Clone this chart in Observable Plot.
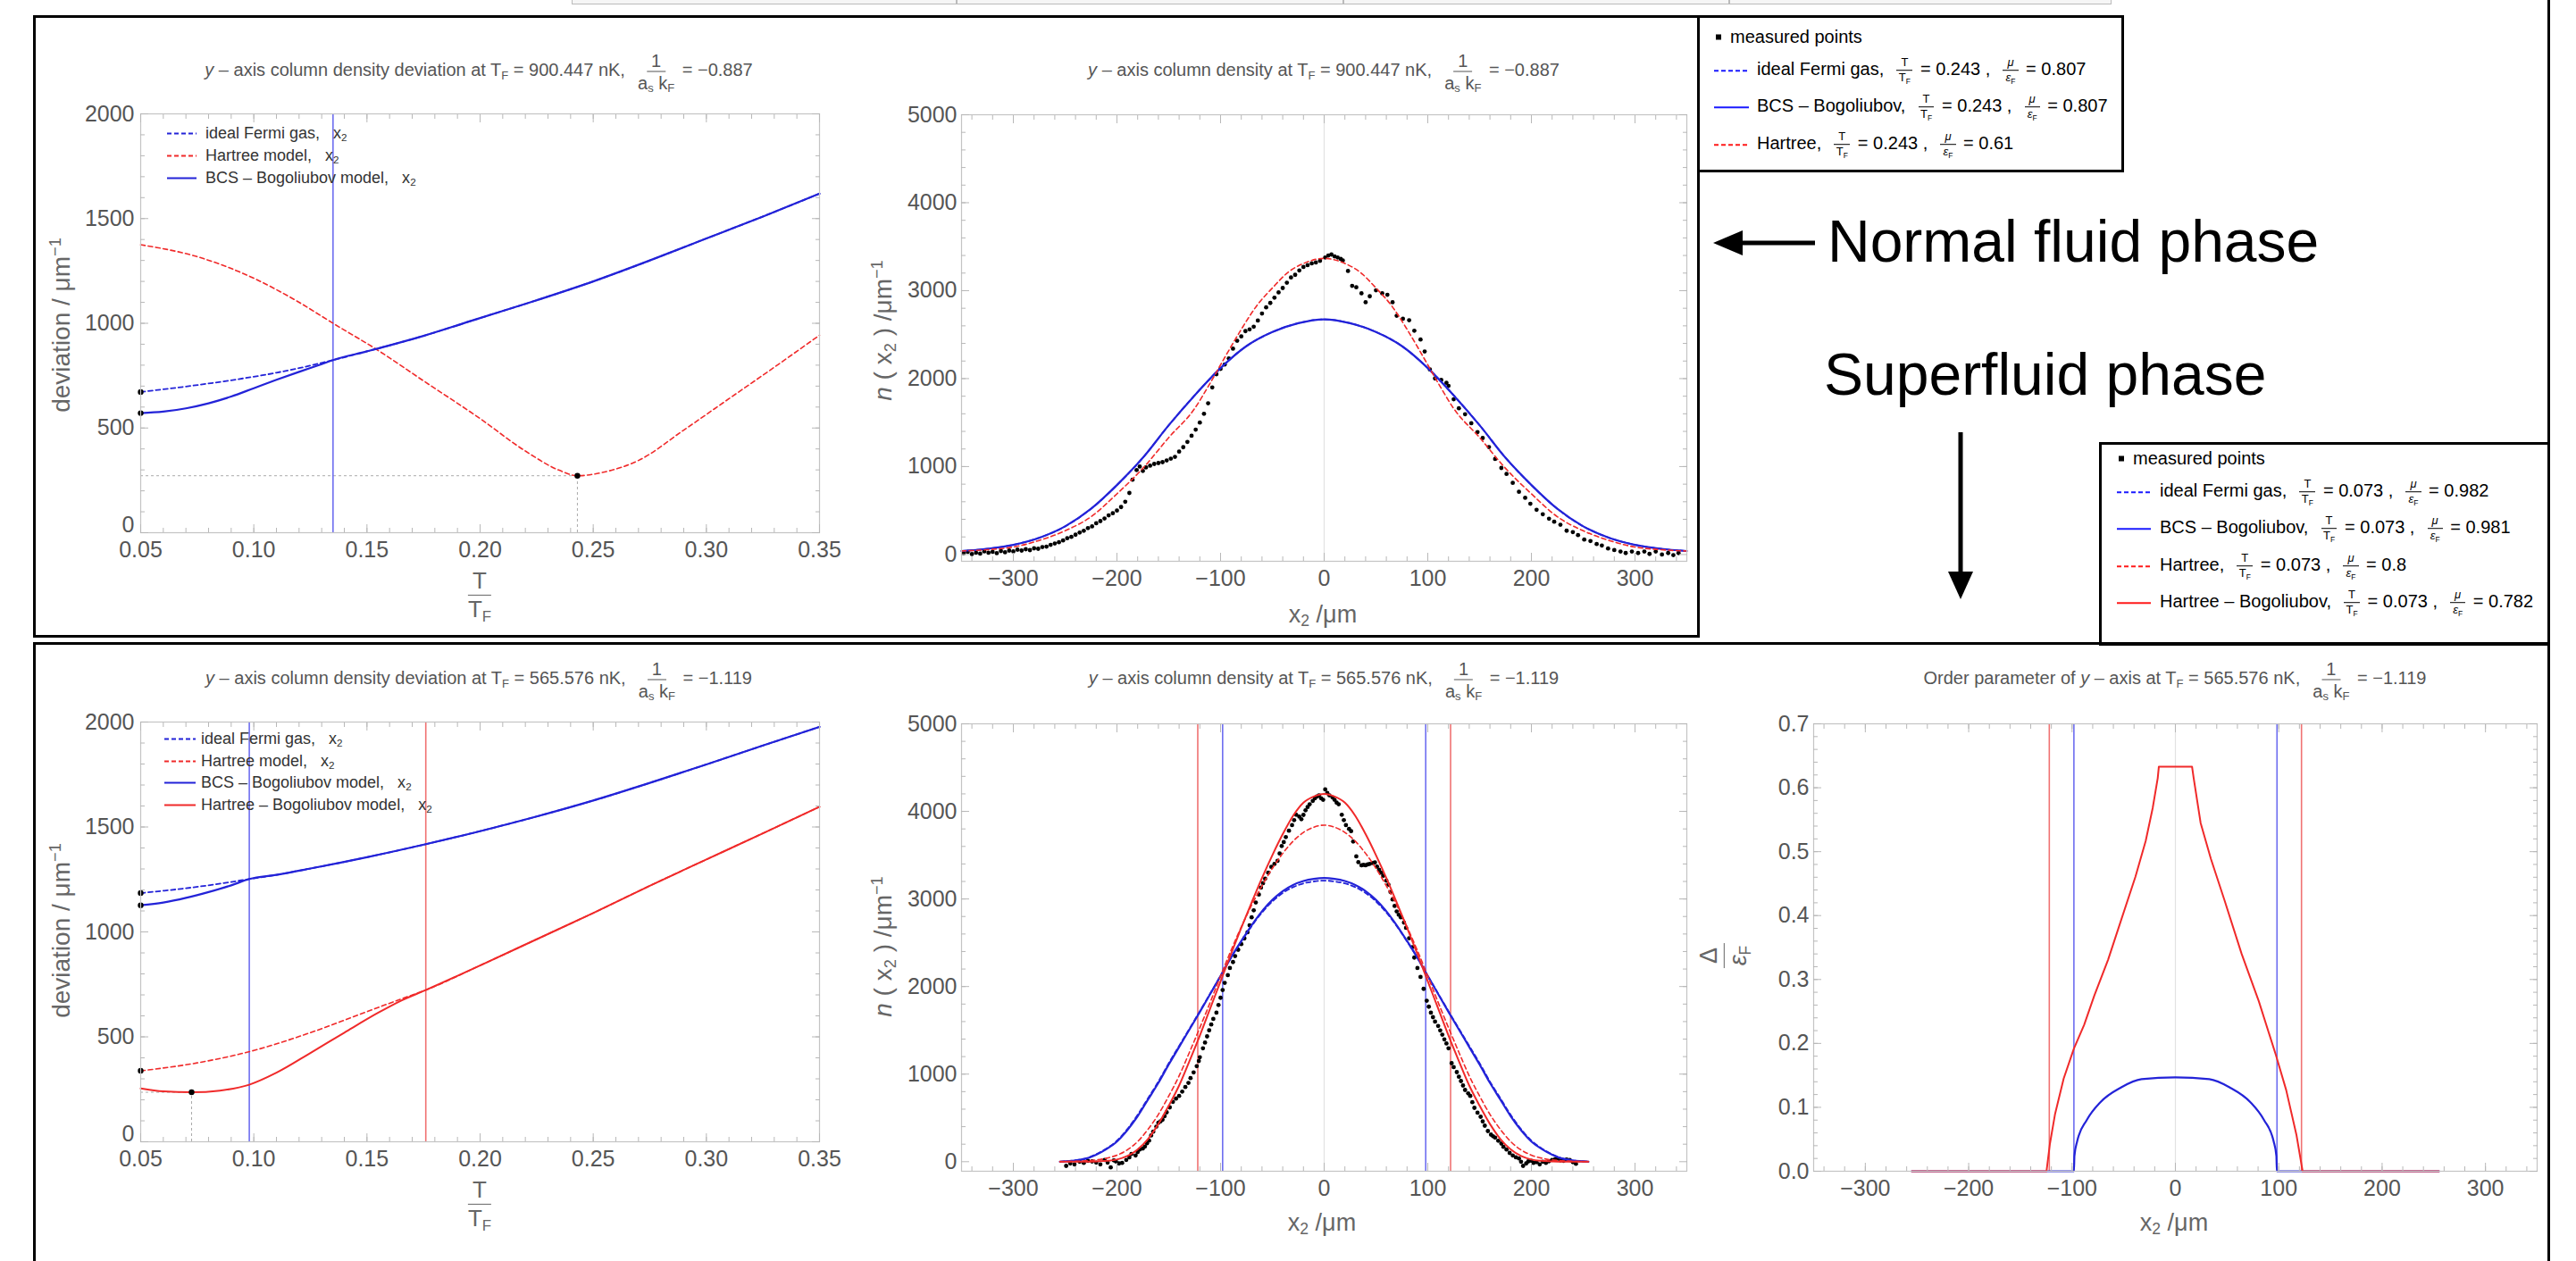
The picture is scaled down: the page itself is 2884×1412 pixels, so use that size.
<!DOCTYPE html>
<html><head><meta charset="utf-8">
<script src="https://cdn.jsdelivr.net/npm/d3@7"></script>
<script src="https://cdn.jsdelivr.net/npm/@observablehq/plot@0.6"></script>
<style>
html,body{margin:0;padding:0;background:#fff;}
#page{position:relative;width:2884px;height:1412px;overflow:hidden;background:#fff;font-family:'Liberation Sans',Arial,sans-serif;}
.box{position:absolute;border:3px solid #000;box-sizing:border-box;}
.t{position:absolute;white-space:nowrap;}
.pf{font-family:'Liberation Sans Narrow','Arial Narrow','Liberation Sans',Arial,sans-serif;}
.frac{display:inline-flex;flex-direction:column;align-items:center;vertical-align:middle;line-height:1.1;margin:0 3px;}
.frac>span:first-child{border-bottom:1.4px solid currentColor;padding:0 5px 1px 5px;}
.frac>span:last-child{padding-top:1px;}
sub{font-size:0.65em;vertical-align:-0.28em;line-height:0;}
sup{font-size:0.65em;vertical-align:0.55em;line-height:0;}
.sm{font-size:13px;}
.row{position:absolute;display:flex;align-items:center;white-space:nowrap;transform:translateY(-50%);}
</style>
</head><body><div id="page"></div>
<script>
// ---------------- DATA ----------------
// Top-left: deviation vs T/T_F  (T_F = 900.447 nK)
const tlT_hartree = [0.05,0.075,0.10,0.12,0.135,0.155,0.175,0.20,0.22,0.235,0.243,0.255,0.27,0.29,0.31,0.33,0.35];
const tlHartree   = [1375,1318,1215,1100,1000,870,725,545,390,298,272,290,345,490,640,790,943];
const tlT_ideal   = [0.05,0.07,0.09,0.11,0.12,0.13,0.135,0.15,0.175,0.20,0.225,0.25,0.275,0.30,0.325,0.35];
const tlIdeal     = [672,698,728,764,786,811,824,866,940,1025,1110,1200,1300,1405,1510,1619];
const tlT_bcs     = [0.05,0.06,0.07,0.08,0.09,0.10,0.11,0.12,0.13,0.135,0.15,0.175,0.20,0.225,0.25,0.275,0.30,0.325,0.35];
const tlBcs       = [571,578,594,618,650,690,730,768,805,824,866,940,1025,1110,1200,1300,1405,1510,1619];
const tlTcBlue    = [0.135];
const tlMarkT     = [0.05,0.05,0.243];
const tlMarkV     = [672,571,272];

// Bottom-left: deviation vs T/T_F  (T_F = 565.576 nK)
const blT_ideal   = [0.05,0.06,0.07,0.08,0.09,0.098,0.11,0.125,0.15,0.176,0.20,0.225,0.25,0.275,0.30,0.325,0.35];
const blIdeal     = [1185,1196,1208,1222,1238,1252,1272,1302,1356,1418,1480,1550,1626,1710,1798,1888,1977];
const blT_bcs     = [0.05,0.06,0.07,0.08,0.09,0.098,0.11,0.125,0.15,0.176,0.20,0.225,0.25,0.275,0.30,0.325,0.35];
const blBcs       = [1127,1140,1162,1190,1222,1252,1272,1302,1356,1418,1480,1550,1626,1710,1798,1888,1977];
const blT_hartree = [0.05,0.075,0.10,0.125,0.15,0.165,0.176,0.20,0.225,0.25,0.275,0.30,0.325,0.35];
const blHartree   = [338,376,435,520,620,680,723,840,965,1090,1220,1345,1470,1596];
const blT_hb      = [0.05,0.06,0.0725,0.085,0.098,0.11,0.125,0.14,0.155,0.165,0.176,0.20,0.225,0.25,0.275,0.30,0.325,0.35];
const blHb        = [254,240,236,244,272,329,423,520,615,672,723,840,965,1090,1220,1345,1470,1596];
const blTcBlue    = [0.098];
const blTcRed     = [0.176];
const blMarkT     = [0.05,0.05,0.05,0.0725];
const blMarkV     = [1185,1127,338,236];

// Top-middle: column density n(x2)  (T_F = 900.447 nK)
const tmX       = [-350,-325,-300,-275,-250,-225,-200,-175,-150,-125,-100,-75,-50,-25,0,25,50,75,100,125,150,175,200,225,250,275,300,325,350];
const tmBcs     = [40,65,110,190,320,520,790,1100,1470,1810,2120,2370,2530,2630,2674,2630,2530,2370,2120,1810,1470,1100,790,520,320,190,110,65,40];
const tmHx      = [-350,-325,-300,-275,-250,-225,-200,-175,-150,-125,-110,-95,-80,-65,-50,-35,-20,0,20,35,50,65,80,95,110,125,150,175,200,225,250,275,300,325,350];
const tmHartree = [40,55,85,160,270,430,690,980,1330,1660,1950,2260,2560,2830,3030,3207,3309,3367,3309,3207,3030,2830,2560,2260,1950,1660,1330,980,690,430,270,160,85,55,40];
const tmMeasured = [[-348,15],[-344,30],[-340,5],[-336,20],[-332,10],[-328,35],[-324,20],[-320,30],[-316,15],[-312,40],[-308,25],[-304,45],[-300,35],[-296,55],[-292,45],[-288,60],[-284,50],[-280,70],[-276,65],[-272,85],[-268,90],[-264,110],[-260,125],[-256,140],[-252,160],[-248,185],[-244,200],[-240,225],[-236,250],[-232,270],[-228,300],[-224,320],[-220,355],[-216,380],[-212,410],[-208,445],[-204,470],[-200,500],[-196,540],[-192,600],[-188,700],[-185,850],[-181,960],[-178,1000],[-175,950],[-172,990],[-168,1010],[-164,1030],[-160,1040],[-156,1050],[-152,1070],[-148,1090],[-144,1110],[-140,1170],[-136,1220],[-132,1280],[-128,1350],[-124,1420],[-120,1500],[-116,1600],[-112,1720],[-108,1900],[-104,2050],[-100,2110],[-96,2160],[-92,2230],[-88,2340],[-84,2430],[-80,2480],[-76,2540],[-72,2560],[-68,2590],[-64,2660],[-60,2740],[-56,2810],[-52,2860],[-48,2920],[-44,2980],[-40,3030],[-36,3090],[-32,3150],[-28,3180],[-24,3230],[-20,3270],[-16,3290],[-12,3310],[-8,3320],[-4,3340],
  [1,3377],[4,3400],[7,3411],[10,3390],[13,3377],[16,3360],[18,3343],[23,3224],[27,3055],[31,3038],[36,2970],[40,2868],[44,2936],[50,3004],[56,2970],[61,2953],[66,2868],[70,2715],[76,2681],[82,2664],[87,2545],[93,2444],[97,2308],[102,2104],[107,2002],[113,1985],[118,1952],[120,1918],[125,1765],[130,1663],[136,1595],[142,1493],[148,1392],[153,1324],[159,1222],[165,1086],[171,984],[176,916],[182,815],[188,713],[194,645],[199,577],[205,509],[211,458],[217,407],[222,373],[228,339],[234,271],[240,255],[245,221],[251,170],[257,153],[263,119],[268,102],[274,68],[280,51],[286,34],[291,17],[297,34],[303,17],[309,34],[314,7],[320,34],[326,0],[332,17],[337,-7],[342,17]];

// Bottom-middle: column density n(x2)  (T_F = 565.576 nK)
const bmX       = [-255,-240,-230,-220,-210,-200,-190,-180,-170,-160,-150,-140,-130,-120,-110,-100,-90,-80,-70,-60,-50,-40,-30,-20,-10,0,10,20,30,40,50,60,70,80,90,100,110,120,130,140,150,160,170,180,190,200,210,220,230,240,255];
const bmIdeal   = [0,16,38,85,152,240,372,535,725,915,1125,1322,1520,1718,1920,2122,2328,2515,2690,2845,2972,3068,3135,3178,3200,3210,3200,3178,3135,3068,2972,2845,2690,2515,2328,2122,1920,1718,1520,1322,1125,915,725,535,372,240,152,85,38,16,0];
const bmBcs     = [0,15,35,80,145,230,360,520,710,900,1110,1310,1510,1710,1915,2120,2330,2520,2700,2860,2990,3090,3160,3205,3230,3240,3230,3205,3160,3090,2990,2860,2700,2520,2330,2120,1915,1710,1510,1310,1110,900,710,520,360,230,145,80,35,15,0];
const bmHartree = [0,4,10,20,40,75,135,230,370,540,750,980,1250,1530,1820,2120,2410,2680,2930,3150,3350,3520,3660,3760,3820,3843,3820,3760,3660,3520,3350,3150,2930,2680,2410,2120,1820,1530,1250,980,750,540,370,230,135,75,40,20,10,4,0];
const bmHb      = [0,0,0,3,10,25,65,140,260,430,640,870,1150,1440,1750,2060,2370,2670,2960,3240,3500,3740,3950,4100,4170,4200,4170,4100,3950,3740,3500,3240,2960,2670,2370,2060,1750,1440,1150,870,640,430,260,140,65,25,10,3,0,0,0];
const bmCutBlue = [-98,98];
const bmCutRed  = [-122,122];
const bmMeasured = [[-249,-48],[-245,-20],[-241,-31],[-236,0],[-232,-14],[-228,10],[-224,3],[-220,-10],[-216,-31],[-212,20],[-209,-10],[-206,-65],[-203,15],[-201,3],[-198,-20],[-195,-14],[-191,20],[-188,50],[-186,88],[-182,71],[-180,110],[-178,139],[-175,150],[-173,173],[-171,210],[-169,241],[-167,300],[-165,343],[-162,400],[-160,445],[-158,460],[-156,479],[-154,520],[-152,564],[-149,620],[-146,683],[-143,720],[-140,751],[-137,800],[-134,853],[-131,900],[-129,955],[-126,1020],[-123,1091],[-121,1150],[-120,1193],[-117,1295],[-115,1360],[-113,1431],[-111,1500],[-109,1567],[-107,1630],[-104,1702],[-102,1790],[-100,1872],[-98,1960],[-96,2042],[-93,2130],[-91,2212],[-88,2280],[-86,2348],[-83,2420],[-80,2484],[-77,2550],[-74,2620],[-72,2700],[-70,2790],[-68,2870],[-66,2960],[-63,3050],[-61,3130],[-59,3180],[-57,3231],[-54,3300],[-51,3367],[-48,3400],[-45,3435],[-43,3520],[-41,3605],[-39,3650],[-37,3707],[-34,3780],[-31,3843],[-29,3900],[-27,3962],[-24,3940],[-22,3911],[-20,3960],[-18,4013],[-16,4050],[-14,4081],[-11,4120],[-9,4149],[-7,4170],[-5,4183],[-3,4150],[-1,4132],
  [1,4251],[3,4210],[5,4183],[8,4160],[10,4132],[12,4100],[14,4081],[17,3962],[19,3900],[21,3843],[24,3800],[26,3775],[28,3656],[31,3486],[33,3420],[36,3384],[38,3390],[40,3384],[42,3395],[44,3401],[47,3410],[49,3418],[51,3370],[53,3333],[55,3300],[57,3265],[60,3210],[62,3164],[64,3080],[66,2994],[68,2920],[70,2858],[72,2820],[74,2790],[77,2730],[79,2671],[82,2552],[85,2450],[87,2331],[90,2212],[93,2110],[96,1974],[99,1838],[101,1770],[103,1702],[105,1650],[107,1600],[110,1550],[112,1499],[114,1450],[116,1397],[118,1350],[120,1295],[123,1125],[125,1080],[128,1023],[130,970],[132,921],[134,870],[136,819],[139,780],[141,751],[143,680],[145,615],[148,560],[151,513],[153,460],[155,411],[158,350],[161,309],[163,290],[165,275],[168,240],[171,207],[173,170],[176,139],[179,100],[182,71],[185,50],[188,37],[190,0],[192,-48],[195,-20],[197,3],[200,10],[202,-14],[205,-5],[208,-31],[211,0],[214,-14],[217,5],[220,20],[223,30],[225,37],[228,15],[231,10],[234,25],[237,20],[240,-5],[243,-24]];

// Bottom-right: order parameter Δ/ε_F
const brRedX  = [-255,-124.7,-121.4,-116.5,-108.1,-98.2,-88.3,-78.4,-65.1,-51.9,-38.6,-28.7,-22,-17.1,-16,16.1,17.7,24.4,34.3,47.5,64.1,80.7,97.2,107.2,117.1,123.1,255];
const brRed   = [0,0,0.043,0.089,0.145,0.192,0.229,0.275,0.331,0.396,0.461,0.517,0.568,0.615,0.633,0.633,0.615,0.545,0.489,0.424,0.34,0.266,0.182,0.127,0.057,0,0];
const brBlueX = [-255,-98.2,-97.7,-95,-85.8,-72.6,-52.7,-32.8,0,32.8,52.7,72.6,85.8,95,97.7,98.2,255];
const brBlue  = [0,0,0.024,0.047,0.08,0.108,0.131,0.144,0.147,0.144,0.131,0.108,0.08,0.047,0.024,0,0];
const brCutBlue = [-98.2,98.3];
const brCutRed  = [-122,122];

// Ticks
const tlXTicks = [0.05,0.10,0.15,0.20,0.25,0.30,0.35];
const tlYTicks = [0,500,1000,1500,2000];
const densXTicks = [-300,-200,-100,0,100,200,300];
const densYTicks = [0,1000,2000,3000,4000,5000];
const brYTicks = [0,0.1,0.2,0.3,0.4,0.5,0.6,0.7];

// ---------------- STYLE ----------------
const BLUE="#2323d8", RED="#f02a2a", BLUEV="#6e6ef0", REDV="#f07272", GRID="#b8b8b8";
const PF="'Liberation Sans Narrow','Arial Narrow','Liberation Sans',Arial,sans-serif";
const page=document.getElementById("page");
const rows=(xs,vs)=>xs.map((x,i)=>({x,v:vs[i]}));
const pairs=a=>a.map(([x,v])=>({x,v}));

function add(html, css, cls="t"){const d=document.createElement("div");d.className=cls;d.innerHTML=html;Object.assign(d.style,css);page.appendChild(d);return d;}
function frac(n,d,cls=""){return `<span class="frac ${cls}"><span>${n}</span><span>${d}</span></span>`;}
function center(html,x,y,css={},cls="t pf"){return add(`<span>${html}</span>`,Object.assign({left:x+"px",top:y+"px",transform:"translate(-50%,-50%)",display:"flex",alignItems:"center"},css),cls);}
function vlabel(html,x,y,css={}){return add(`<span>${html}</span>`,Object.assign({left:x+"px",top:y+"px",transform:"translate(-50%,-50%) rotate(-90deg)",display:"flex",alignItems:"center",color:"#666",fontSize:"28px"},css),"t");}

function makePlot(c){
  const ml=110,mr=30,mt=15,mb=55;
  const W=c.r-c.l,H=c.b-c.t;
  const blank=()=>"";
  const tk=(axis,ticks,anchor,size)=>axis(ticks,{anchor,tickSize:size,tickFormat:blank,label:null,stroke:GRID,strokeWidth:1});
  const yLab = c.liftZero ? [
      Plot.axisY(c.yMajor.filter(d=>d!==0),{anchor:"left",tickSize:0,tickPadding:c.ypad??7,tickFormat:c.yfmt,label:null}),
      Plot.axisY([0],{anchor:"left",tickSize:0,tickPadding:c.ypad??7,tickFormat:c.yfmt,label:null,dy:-9})
    ] : [Plot.axisY(c.yMajor,{anchor:"left",tickSize:0,tickPadding:c.ypad??7,tickFormat:c.yfmt,label:null})];
  const marks=[
    ...c.marks,
    Plot.frame({stroke:"#c4c4c4",strokeWidth:1.2}),
    tk(Plot.axisX,c.xMajor,"bottom",-9),tk(Plot.axisX,c.xMinor,"bottom",-5),
    tk(Plot.axisX,c.xMajor,"top",-9),tk(Plot.axisX,c.xMinor,"top",-5),
    tk(Plot.axisY,c.yMajor,"left",-9),tk(Plot.axisY,c.yMinor,"left",-5),
    tk(Plot.axisY,c.yMajor,"right",-9),tk(Plot.axisY,c.yMinor,"right",-5),
    Plot.axisX(c.xMajor,{anchor:"bottom",tickSize:0,tickPadding:c.xpad??10,tickFormat:c.xfmt,label:null}),
    ...yLab
  ];
  const svg=Plot.plot({width:W+ml+mr,height:H+mt+mb,marginLeft:ml,marginRight:mr,marginTop:mt,marginBottom:mb,
    x:{domain:c.xd},y:{domain:c.yd},
    style:{fontFamily:PF,fontSize:"25px",color:"#555",background:"transparent",overflow:"visible"},
    marks});
  Object.assign(svg.style,{position:"absolute",left:(c.l-ml)+"px",top:(c.t-mt)+"px"});
  page.appendChild(svg);
}
const f2=d3.format(".2f"), f1=d3.format(".1f"), fi=d3.format("d");
const minus=s=>String(s).replace("-","−");
const fint=d=>minus(fi(d));
const curve="monotone-x";
const line=(data,stroke,dash,w=2)=>Plot.line(data,{x:"x",y:"v",stroke,strokeWidth:w,strokeDasharray:dash?"5,3.5":null,curve});

// ---------------- BOXES & DECOR ----------------
add("",{left:"640px",top:"-3px",width:"1724px",height:"8px",border:"1.5px solid #bbb",background:"#f6f6f6",boxSizing:"border-box"},"box");
[1070,1503,1935].forEach(x=>add("",{left:x+"px",top:"0px",width:"1.5px",height:"5px",background:"#bbb"},"t"));
add("",{left:"37px",top:"17px",width:"1866px",height:"697px"},"box");
add("",{left:"1900px",top:"17px",width:"478px",height:"176px"},"box");
add("",{left:"2350px",top:"495px",width:"505px",height:"228px"},"box");
add("",{left:"37px",top:"719px",width:"2818px",height:"760px"},"box");
add("",{left:"2852px",top:"0px",width:"3px",height:"1412px",background:"#000"},"t");

// ---------------- TOP-LEFT ----------------
makePlot({l:157,t:127,r:917,b:596,xd:[0.05,0.35],yd:[0,2000],liftZero:true,
  xMajor:tlXTicks,xMinor:d3.range(0.06,0.35,0.01),yMajor:tlYTicks,yMinor:d3.range(100,2000,100),
  xfmt:f2,yfmt:fint,
  marks:[
    Plot.ruleY([{v:tlMarkV[2],x1:tlMarkT[0],x2:tlMarkT[2]}],{y:"v",x1:"x1",x2:"x2",stroke:"#aaa",strokeDasharray:"3,3"}),
    Plot.ruleX([{x:tlMarkT[2],v:tlMarkV[2]}],{x:"x",y1:0,y2:"v",stroke:"#aaa",strokeDasharray:"3,3"}),
    Plot.ruleX(tlTcBlue,{stroke:BLUEV,strokeWidth:1.6}),
    line(rows(tlT_hartree,tlHartree),RED,true,1.6),
    line(rows(tlT_ideal,tlIdeal),BLUE,true,1.8),
    line(rows(tlT_bcs,tlBcs),BLUE,false,2.2),
    Plot.dot(rows(tlMarkT,tlMarkV),{x:"x",y:"v",fill:"#000",r:3.2})
  ]});
center(`<i>y</i> – axis column density deviation at T<sub>F</sub> = 900.447 nK,&nbsp;&nbsp;${frac("1","a<sub>s</sub> k<sub>F</sub>")} = −0.887`,536,80,{fontSize:"20px",color:"#555"});
center(frac("T","T<sub>F</sub>"),537,666,{fontSize:"26px",color:"#666"});
vlabel("deviation / μm<sup>−1</sup>",69,364);

// ---------------- TOP-MIDDLE ----------------
makePlot({l:1076,t:128,r:1888,b:628,xd:[-350,350],yd:[-77,5000],
  xMajor:densXTicks,xMinor:d3.range(-340,350,20),yMajor:densYTicks,yMinor:d3.range(200,5000,200),
  xfmt:fint,yfmt:fint,xpad:10,ypad:5,
  marks:[
    Plot.ruleX([0],{stroke:"#e2e2e2",strokeWidth:1.2}),
    Plot.dot(pairs(tmMeasured),{x:"x",y:"v",fill:"#000",r:2.4}),
    line(rows(tmX,tmBcs),BLUE,true,1.8),
    line(rows(tmX,tmBcs),BLUE,false,2.2),
    line(rows(tmHx,tmHartree),RED,true,1.6)
  ]});
center(`<i>y</i> – axis column density at T<sub>F</sub> = 900.447 nK,&nbsp;&nbsp;${frac("1","a<sub>s</sub> k<sub>F</sub>")} = −0.887`,1482,80,{fontSize:"20px",color:"#555"});
center("x<sub>2</sub> /μm",1481,688,{fontSize:"27px",color:"#666"},"t");
vlabel("<i>n</i> ( x<sub>2</sub> ) /μm<sup>−1</sup>",989,370);

// ---------------- BOTTOM-LEFT ----------------
makePlot({l:157,t:808,r:917,b:1278,xd:[0.05,0.35],yd:[0,2000],liftZero:true,
  xMajor:tlXTicks,xMinor:d3.range(0.06,0.35,0.01),yMajor:tlYTicks,yMinor:d3.range(100,2000,100),
  xfmt:f2,yfmt:fint,
  marks:[
    Plot.ruleY([{v:blMarkV[3],x1:blMarkT[0],x2:blMarkT[3]}],{y:"v",x1:"x1",x2:"x2",stroke:"#aaa",strokeDasharray:"3,3"}),
    Plot.ruleX([{x:blMarkT[3],v:blMarkV[3]}],{x:"x",y1:0,y2:"v",stroke:"#aaa",strokeDasharray:"3,3"}),
    Plot.ruleX(blTcBlue,{stroke:BLUEV,strokeWidth:1.6}),
    Plot.ruleX(blTcRed,{stroke:REDV,strokeWidth:1.6}),
    line(rows(blT_hartree,blHartree),RED,true,1.6),
    line(rows(blT_hb,blHb),RED,false,2),
    line(rows(blT_ideal,blIdeal),BLUE,true,1.8),
    line(rows(blT_bcs,blBcs),BLUE,false,2.2),
    Plot.dot(rows(blMarkT,blMarkV),{x:"x",y:"v",fill:"#000",r:3.2})
  ]});
center(`<i>y</i> – axis column density deviation at T<sub>F</sub> = 565.576 nK,&nbsp;&nbsp;${frac("1","a<sub>s</sub> k<sub>F</sub>")} = −1.119`,536,761,{fontSize:"20px",color:"#555"});
center(frac("T","T<sub>F</sub>"),537,1348,{fontSize:"26px",color:"#666"});
vlabel("deviation / μm<sup>−1</sup>",69,1042);

// ---------------- BOTTOM-MIDDLE ----------------
makePlot({l:1076,t:810,r:1888,b:1311,xd:[-350,350],yd:[-109,5000],
  xMajor:densXTicks,xMinor:d3.range(-340,350,20),yMajor:densYTicks,yMinor:d3.range(200,5000,200),
  xfmt:fint,yfmt:fint,xpad:10,ypad:5,
  marks:[
    Plot.ruleX([0],{stroke:"#e2e2e2",strokeWidth:1.2}),
    Plot.ruleX(bmCutRed,{stroke:REDV,strokeWidth:1.6}),
    Plot.ruleX(bmCutBlue,{stroke:BLUEV,strokeWidth:1.6}),
    Plot.dot(pairs(bmMeasured),{x:"x",y:"v",fill:"#000",r:2.4}),
    line(rows(bmX,bmIdeal),BLUE,true,1.8),
    line(rows(bmX,bmBcs),BLUE,false,2.2),
    line(rows(bmX,bmHartree),RED,true,1.6),
    line(rows(bmX,bmHb),RED,false,2)
  ]});
center(`<i>y</i> – axis column density at T<sub>F</sub> = 565.576 nK,&nbsp;&nbsp;${frac("1","a<sub>s</sub> k<sub>F</sub>")} = −1.119`,1482,761,{fontSize:"20px",color:"#555"});
center("x<sub>2</sub> /μm",1480,1369,{fontSize:"27px",color:"#666"},"t");
vlabel("<i>n</i> ( x<sub>2</sub> ) /μm<sup>−1</sup>",989,1060);

// ---------------- BOTTOM-RIGHT ----------------
makePlot({l:2030,t:810,r:2840,b:1311,xd:[-350,350],yd:[0,0.7],
  xMajor:densXTicks,xMinor:d3.range(-340,350,20),yMajor:brYTicks,yMinor:d3.range(0.02,0.7,0.02),
  xfmt:fint,yfmt:f1,xpad:10,ypad:5,
  marks:[
    Plot.ruleX([0],{stroke:"#e2e2e2",strokeWidth:1.2}),
    Plot.ruleX(brCutRed,{stroke:REDV,strokeWidth:1.6}),
    Plot.ruleX(brCutBlue,{stroke:BLUEV,strokeWidth:1.6}),
    line(rows(brBlueX,brBlue),BLUE,false,2.2),
    Plot.line(rows(brRedX,brRed),{x:"x",y:"v",stroke:RED,strokeWidth:2,curve:"linear"})
  ]});
center(`Order parameter of <i>y</i> – axis at T<sub>F</sub> = 565.576 nK,&nbsp;&nbsp;${frac("1","a<sub>s</sub> k<sub>F</sub>")} = −1.119`,2435,761,{fontSize:"20px",color:"#555"});
center("x<sub>2</sub> /μm",2434,1369,{fontSize:"27px",color:"#666"},"t");
vlabel(frac("Δ","<i>ε</i><sub>F</sub>"),1930,1070,{fontSize:"27px"});

// ---------------- IN-PLOT LEGENDS ----------------
function sample(color,dash,len,w=2){return `<svg width="${len}" height="10" style="display:block"><line x1="0" y1="5" x2="${len}" y2="5" stroke="${color}" stroke-width="${w}" ${dash?'stroke-dasharray="5,3"':''}/></svg>`;}
function legendRow(x,y,color,dash,len,gap,html,css){
  return add(`${sample(color,dash,len)}<span style="margin-left:${gap}px">${html}</span>`,Object.assign({left:x+"px",top:y+"px"},css),"row");
}
const inCss={fontSize:"18px",color:"#333",fontFamily:PF};
legendRow(187,149,BLUE,true,33,10,"ideal Fermi gas,&nbsp;&nbsp; x<sub>2</sub>",inCss);
legendRow(187,174,RED,true,33,10,"Hartree model,&nbsp;&nbsp; x<sub>2</sub>",inCss);
legendRow(187,199,BLUE,false,33,10,"BCS – Bogoliubov model,&nbsp;&nbsp; x<sub>2</sub>",inCss);
legendRow(184,827,BLUE,true,35,6,"ideal Fermi gas,&nbsp;&nbsp; x<sub>2</sub>",inCss);
legendRow(184,852,RED,true,35,6,"Hartree model,&nbsp;&nbsp; x<sub>2</sub>",inCss);
legendRow(184,876,BLUE,false,35,6,"BCS – Bogoliubov model,&nbsp;&nbsp; x<sub>2</sub>",inCss);
legendRow(184,901,RED,false,35,6,"Hartree – Bogoliubov model,&nbsp;&nbsp; x<sub>2</sub>",inCss);

// ---------------- OUTER LEGENDS ----------------
const outCss={fontSize:"20px",color:"#000"};
const TT=frac("T","T<sub>F</sub>","sm"), MU=frac("<i>μ</i>","<i>ε</i><sub>F</sub>","sm");
add(`<span style="display:inline-block;width:6px;height:6px;background:#000;margin-right:10px"></span><span>measured points</span>`,{left:"1921px",top:"41px",fontSize:"20px"},"row");
legendRow(1919,79,"#1a1aff",true,39,9,`ideal Fermi gas,&nbsp;&nbsp;${TT} = 0.243 ,&nbsp;&nbsp;${MU} = 0.807`,outCss);
legendRow(1919,120,"#1a1aff",false,39,9,`BCS – Bogoliubov,&nbsp;&nbsp;${TT} = 0.243 ,&nbsp;&nbsp;${MU} = 0.807`,outCss);
legendRow(1919,162,"#ff1a1a",true,39,9,`Hartree,&nbsp;&nbsp;${TT} = 0.243 ,&nbsp;&nbsp;${MU} = 0.61`,outCss);
add(`<span style="display:inline-block;width:6px;height:6px;background:#000;margin-right:10px"></span><span>measured points</span>`,{left:"2372px",top:"513px",fontSize:"20px"},"row");
legendRow(2370,551,"#1a1aff",true,38,10,`ideal Fermi gas,&nbsp;&nbsp;${TT} = 0.073 ,&nbsp;&nbsp;${MU} = 0.982`,outCss);
legendRow(2370,592,"#1a1aff",false,38,10,`BCS – Bogoliubov,&nbsp;&nbsp;${TT} = 0.073 ,&nbsp;&nbsp;${MU} = 0.981`,outCss);
legendRow(2370,634,"#ff1a1a",true,38,10,`Hartree,&nbsp;&nbsp;${TT} = 0.073 ,&nbsp;&nbsp;${MU} = 0.8`,outCss);
legendRow(2370,675,"#ff1a1a",false,38,10,`Hartree – Bogoliubov,&nbsp;&nbsp;${TT} = 0.073 ,&nbsp;&nbsp;${MU} = 0.782`,outCss);

// ---------------- PHASE ANNOTATIONS ----------------
add("Normal fluid phase",{left:"2046px",top:"237px",fontSize:"66px",lineHeight:"66px",color:"#000"});
add("Superfluid phase",{left:"2042px",top:"386px",fontSize:"66px",lineHeight:"66px",color:"#000"});
add(`<svg width="2884" height="1412" style="position:absolute;left:0;top:0">
  <line x1="1945" y1="272" x2="2032" y2="272" stroke="#000" stroke-width="5"/>
  <polygon points="1918,272 1951,258 1951,286" fill="#000"/>
  <line x1="2195" y1="484" x2="2195" y2="645" stroke="#000" stroke-width="5"/>
  <polygon points="2195,671 2181,640 2209,640" fill="#000"/>
</svg>`,{left:"0px",top:"0px",pointerEvents:"none"});
</script>
</body></html>
